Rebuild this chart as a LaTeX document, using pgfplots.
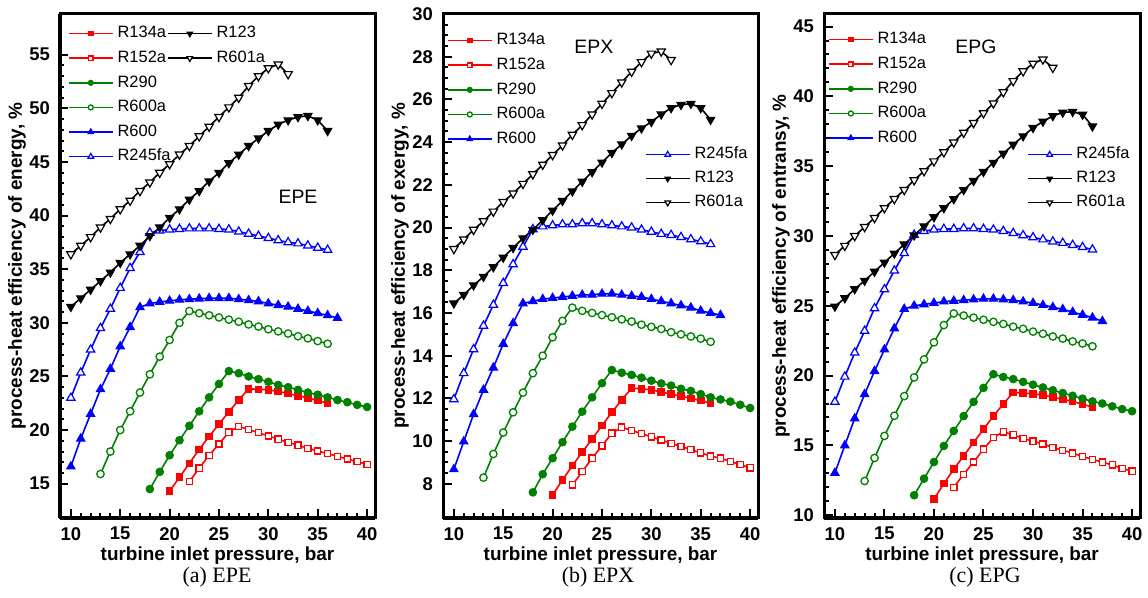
\documentclass[border=0pt]{standalone}
\usepackage{fontspec}
\setmainfont{Liberation Sans}
\newfontfamily\capfont{Liberation Serif}
\usepackage{pgfplots}
\pgfplotsset{compat=1.18}

\definecolor{cR}{RGB}{255,0,0}
\definecolor{cG}{RGB}{0,128,0}
\definecolor{cB}{RGB}{0,0,255}

\tikzset{
  inlabel/.style={font=\fontsize{19.5}{22}\selectfont},
  frame/.style={line width=3bp, black, line cap=rect},
}

\pgfplotsset{
  legimg/.style={
    legend cell align=left,
    legend style={draw=none, fill=none, inner sep=0pt, outer sep=0pt,
      font=\fontsize{16.5}{18}\selectfont, row sep=9.1bp, column sep=4bp,
      nodes={inner sep=0pt, text height=12bp, text depth=3.5bp}},
    legend image code/.code={\draw[mark repeat=2,mark phase=2,##1,
      every mark/.append style={scale=0.68}]
      plot coordinates {(0bp,0bp) (22bp,0bp) (44bp,0bp)};},
  },
  panel/.style={
    width=315bp, height=504bp, scale only axis,
    xmin=8.9, xmax=40.8, xtick={10,15,...,40}, minor x tick num=4,
    axis x line*=bottom, axis y line*=left,
    x axis line style={line width=3bp, black, -},
    y axis line style={line width=3bp, black, -},
    tick style={line width=2bp, black},
    major tick length=8.5bp, minor tick length=4.5bp,
    tick align=inside,
    /pgf/number format/assume math mode=true,
    xticklabel={\pgfmathprintnumber{\tick}},
    yticklabel={\pgfmathprintnumber{\tick}},
    ticklabel style={font=\fontsize{18.5}{20}\selectfont\bfseries},
    xticklabel style={inner sep=0pt, yshift=-9bp},
    yticklabel style={inner sep=0pt, xshift=-10bp},
    label style={font=\fontsize{19}{22}\selectfont\bfseries},
    xlabel style={yshift=-3bp},
    xlabel={turbine inlet pressure, bar},
    legimg,
  },
  ghost/.style={
    width=315bp, height=504bp, scale only axis, hide axis,
    xmin=0, xmax=1, ymin=0, ymax=1, legimg,
    legend style={row sep=8.5bp},
  },
  s134/.style={color=cR, line width=1.6bp, mark=square*, mark size=3.3bp, mark options={solid, fill=cR, line width=1bp}},
  s152/.style={color=cR, line width=1.6bp, mark=square*, mark size=3.1bp, mark options={solid, fill=white, line width=1.3bp}},
  s290/.style={color=cG, line width=1.6bp, mark=*, mark size=3.8bp, mark options={solid, fill=cG, line width=1bp}},
  s600a/.style={color=cG, line width=1.6bp, mark=*, mark size=3.7bp, mark options={solid, fill=white, line width=1.3bp}},
  s600/.style={color=cB, line width=1.6bp, mark=triangle*, mark size=4.8bp, mark options={solid, fill=cB, line width=1bp}},
  s245/.style={color=cB, line width=1.6bp, mark=triangle*, mark size=4.8bp, mark options={solid, fill=white, line width=1.2bp}},
  s123/.style={color=black, line width=1.6bp, mark=triangle*, mark size=4.8bp, mark options={solid, rotate=180, fill=black, line width=1bp}},
  s601/.style={color=black, line width=1.6bp, mark=triangle*, mark size=4.8bp, mark options={solid, rotate=180, fill=white, line width=1.2bp}},
}

\begin{document}
\begin{tikzpicture}
\path[use as bounding box] (0,0) rectangle (1148bp,598bp);

% ---------------- (a) EPE ----------------
\begin{axis}[panel, name=pa, at={(60bp,80bp)}, anchor=south west,
  ymin=11.8, ymax=58.8, ytick={15,20,...,55}, minor y tick num=4,
  ylabel={process-heat efficiency of energy, \%},
  legend style={at={(0.0254,0.9764)}, anchor=north west}]
\addplot[s134] coordinates {(20,14.3)(21,15.6)(22,16.9)(23,18.2)(24,19.4)(25,20.55)(26,21.7)(27,22.8)(28,23.85)(29,23.8)(30,23.75)(31,23.6)(32,23.4)(33,23.2)(34,23.0)(35,22.75)(36,22.5)};
\addlegendentry{R134a}
\addplot[s152] coordinates {(22,15.2)(23,16.45)(24,17.65)(25,18.7)(26,19.8)(27,20.35)(28,20.05)(29,19.75)(30,19.45)(31,19.15)(32,18.85)(33,18.6)(34,18.3)(35,18.05)(36,17.8)(37,17.55)(38,17.3)(39,17.05)(40,16.8)};
\addlegendentry{R152a}
\addplot[s290] coordinates {(18,14.5)(19,16.1)(20,17.65)(21,19.05)(22,20.4)(23,21.75)(24,23.05)(25,24.3)(26,25.5)(27,25.3)(28,25.0)(29,24.75)(30,24.5)(31,24.2)(32,24.0)(33,23.75)(34,23.5)(35,23.3)(36,23.05)(37,22.8)(38,22.6)(39,22.35)(40,22.15)};
\addlegendentry{R290}
\addplot[s600a] coordinates {(13,15.9)(14,18.0)(15,20.0)(16,21.75)(17,23.5)(18,25.2)(19,26.85)(20,28.4)(21,30.0)(22,31.1)(23,30.9)(24,30.7)(25,30.5)(26,30.3)(27,30.1)(28,29.85)(29,29.65)(30,29.4)(31,29.2)(32,29.0)(33,28.75)(34,28.55)(35,28.3)(36,28.05)};
\addlegendentry{R600a}
\addplot[s600] coordinates {(10,16.6)(11,19.2)(12,21.5)(13,23.8)(14,25.7)(15,27.8)(16,29.6)(17,31.45)(18,31.8)(19,31.95)(20,32.05)(21,32.15)(22,32.2)(23,32.25)(24,32.3)(25,32.3)(26,32.3)(27,32.2)(28,32.1)(29,32.0)(30,31.8)(31,31.65)(32,31.5)(33,31.3)(34,31.1)(35,30.9)(36,30.7)(37,30.45)};
\addlegendentry{R600}
\addplot[s245] coordinates {(10,23.0)(11,25.35)(12,27.5)(13,29.5)(14,31.3)(15,33.25)(16,35.1)(17,36.6)(18,38.4)(19,38.6)(20,38.7)(21,38.75)(22,38.8)(23,38.8)(24,38.8)(25,38.75)(26,38.7)(27,38.5)(28,38.3)(29,38.1)(30,37.9)(31,37.7)(32,37.5)(33,37.4)(34,37.2)(35,37.0)(36,36.8)};
\addlegendentry{R245fa}
\addplot[s123, forget plot] coordinates {(10,31.5)(11,32.3)(12,33.1)(13,33.9)(14,34.7)(15,35.6)(16,36.4)(17,37.2)(18,38.1)(19,38.9)(20,39.8)(21,40.6)(22,41.5)(23,42.3)(24,43.2)(25,44.0)(26,44.9)(27,45.7)(28,46.5)(29,47.2)(30,47.9)(31,48.5)(32,48.9)(33,49.2)(34,49.3)(35,48.9)(36,47.9)};
\addplot[s601, forget plot] coordinates {(10,36.4)(11,37.2)(12,38.0)(13,38.9)(14,39.7)(15,40.6)(16,41.4)(17,42.3)(18,43.1)(19,44.0)(20,44.8)(21,45.7)(22,46.5)(23,47.4)(24,48.3)(25,49.2)(26,50.1)(27,51.0)(28,52.1)(29,53.0)(30,53.75)(31,54.1)(32,53.2)};
\node[inlabel] at (rel axis cs:0.7556,0.6369) {EPE};
\end{axis}
\begin{axis}[ghost, at={(60bp,80bp)}, anchor=south west,
  legend style={at={(0.3397,0.9764)}, anchor=north west, row sep=9.1bp}]
\addlegendimage{s123}\addlegendentry{R123}
\addlegendimage{s601}\addlegendentry{R601a}
\end{axis}
\node[font=\capfont\fontsize{22}{24}\selectfont] at (217bp,21bp) {(a) EPE};

% ---------------- (b) EPX ----------------
\begin{axis}[panel, name=pb, at={(443bp,80bp)}, anchor=south west,
  ymin=6.4, ymax=30, ytick={8,10,...,30}, minor y tick num=3,
  ylabel={process-heat efficiency of exergy, \%},
  legend style={at={(0.0127,0.9625)}, anchor=north west}]
\addplot[s134] coordinates {(20,7.48)(21,8.18)(22,8.85)(23,9.48)(24,10.1)(25,10.73)(26,11.35)(27,11.93)(28,12.48)(29,12.45)(30,12.4)(31,12.3)(32,12.2)(33,12.1)(34,12.0)(35,11.9)(36,11.77)};
\addlegendentry{R134a}
\addplot[s152] coordinates {(22,7.95)(23,8.57)(24,9.2)(25,9.78)(26,10.37)(27,10.65)(28,10.5)(29,10.35)(30,10.2)(31,10.05)(32,9.9)(33,9.75)(34,9.6)(35,9.45)(36,9.3)(37,9.2)(38,9.05)(39,8.9)(40,8.75)};
\addlegendentry{R152a}
\addplot[s290] coordinates {(18,7.6)(19,8.45)(20,9.2)(21,9.95)(22,10.68)(23,11.38)(24,12.05)(25,12.71)(26,13.33)(27,13.2)(28,13.1)(29,12.97)(30,12.83)(31,12.7)(32,12.6)(33,12.45)(34,12.35)(35,12.2)(36,12.05)(37,11.95)(38,11.85)(39,11.7)(40,11.55)};
\addlegendentry{R290}
\addplot[s600a] coordinates {(13,8.29)(14,9.4)(15,10.4)(16,11.35)(17,12.27)(18,13.18)(19,14.0)(20,14.86)(21,15.63)(22,16.25)(23,16.1)(24,16.0)(25,15.9)(26,15.8)(27,15.7)(28,15.6)(29,15.45)(30,15.35)(31,15.25)(32,15.1)(33,15.0)(34,14.9)(35,14.8)(36,14.65)};
\addlegendentry{R600a}
\addplot[s600] coordinates {(10,8.68)(11,9.98)(12,11.26)(13,12.4)(14,13.44)(15,14.55)(16,15.52)(17,16.45)(18,16.55)(19,16.65)(20,16.7)(21,16.75)(22,16.8)(23,16.85)(24,16.85)(25,16.9)(26,16.9)(27,16.85)(28,16.8)(29,16.75)(30,16.65)(31,16.55)(32,16.45)(33,16.35)(34,16.25)(35,16.1)(36,16.0)(37,15.9)};
\addlegendentry{R600}
\addplot[s245, forget plot] coordinates {(10,11.96)(11,13.18)(12,14.3)(13,15.4)(14,16.38)(15,17.4)(16,18.28)(17,19.1)(18,19.92)(19,20.05)(20,20.1)(21,20.15)(22,20.15)(23,20.2)(24,20.2)(25,20.15)(26,20.1)(27,20.05)(28,20.0)(29,19.9)(30,19.8)(31,19.7)(32,19.65)(33,19.55)(34,19.45)(35,19.35)(36,19.22)};
\addplot[s123, forget plot] coordinates {(10,16.45)(11,16.85)(12,17.3)(13,17.7)(14,18.15)(15,18.6)(16,19.05)(17,19.5)(18,19.9)(19,20.35)(20,20.8)(21,21.25)(22,21.7)(23,22.15)(24,22.6)(25,23.05)(26,23.5)(27,23.9)(28,24.3)(29,24.65)(30,24.95)(31,25.3)(32,25.6)(33,25.75)(34,25.8)(35,25.6)(36,25.05)};
\addplot[s601, forget plot] coordinates {(10,19.0)(11,19.45)(12,19.9)(13,20.3)(14,20.75)(15,21.2)(16,21.6)(17,22.05)(18,22.5)(19,22.95)(20,23.4)(21,23.85)(22,24.35)(23,24.8)(24,25.3)(25,25.8)(26,26.3)(27,26.8)(28,27.3)(29,27.75)(30,28.15)(31,28.25)(32,27.85)};
\node[inlabel] at (rel axis cs:0.479,0.9345) {EPX};
\end{axis}
\begin{axis}[ghost, at={(443bp,80bp)}, anchor=south west,
  legend style={at={(0.641,0.7363)}, anchor=north west}]
\addlegendimage{s245}\addlegendentry{R245fa}
\addlegendimage{s123}\addlegendentry{R123}
\addlegendimage{s601}\addlegendentry{R601a}
\end{axis}
\node[font=\capfont\fontsize{22}{24}\selectfont] at (598bp,21bp) {(b) EPX};

% ---------------- (c) EPG ----------------
\begin{axis}[panel, name=pc, width=316bp, at={(824bp,80bp)}, anchor=south west,
  ymin=9.8, ymax=45.9, ytick={10,15,...,45}, minor y tick num=4,
  ylabel={process-heat efficiency of entransy, \%},
  legend style={at={(0.0127,0.9645)}, anchor=north west}]
\addplot[s134] coordinates {(20,11.14)(21,12.27)(22,13.29)(23,14.25)(24,15.21)(25,16.16)(26,17.1)(27,17.96)(28,18.8)(29,18.75)(30,18.7)(31,18.6)(32,18.45)(33,18.3)(34,18.15)(35,17.95)(36,17.75)};
\addlegendentry{R134a}
\addplot[s152] coordinates {(22,12.0)(23,12.93)(24,13.81)(25,14.73)(26,15.57)(27,15.97)(28,15.75)(29,15.5)(30,15.3)(31,15.1)(32,14.85)(33,14.65)(34,14.45)(35,14.2)(36,14.0)(37,13.8)(38,13.6)(39,13.35)(40,13.15)};
\addlegendentry{R152a}
\addplot[s290] coordinates {(18,11.43)(19,12.62)(20,13.81)(21,14.96)(22,16.04)(23,17.1)(24,18.12)(25,19.12)(26,20.1)(27,19.9)(28,19.75)(29,19.55)(30,19.35)(31,19.15)(32,18.95)(33,18.75)(34,18.55)(35,18.35)(36,18.15)(37,18.0)(38,17.8)(39,17.6)(40,17.45)};
\addlegendentry{R290}
\addplot[s600a] coordinates {(13,12.45)(14,14.1)(15,15.68)(16,17.12)(17,18.53)(18,19.87)(19,21.16)(20,22.38)(21,23.62)(22,24.45)(23,24.3)(24,24.15)(25,24.0)(26,23.85)(27,23.7)(28,23.5)(29,23.35)(30,23.15)(31,23.0)(32,22.8)(33,22.65)(34,22.45)(35,22.3)(36,22.1)};
\addlegendentry{R600a}
\addplot[s600] coordinates {(10,13.03)(11,15.0)(12,16.93)(13,18.67)(14,20.32)(15,21.87)(16,23.38)(17,24.77)(18,25.0)(19,25.1)(20,25.2)(21,25.3)(22,25.35)(23,25.4)(24,25.45)(25,25.5)(26,25.5)(27,25.45)(28,25.4)(29,25.3)(30,25.2)(31,25.05)(32,24.9)(33,24.75)(34,24.55)(35,24.35)(36,24.15)(37,23.9)};
\addlegendentry{R600}
\addplot[s245, forget plot] coordinates {(10,18.12)(11,19.92)(12,21.64)(13,23.2)(14,24.82)(15,26.18)(16,27.52)(17,28.77)(18,30.08)(19,30.35)(20,30.45)(21,30.5)(22,30.5)(23,30.55)(24,30.55)(25,30.5)(26,30.45)(27,30.35)(28,30.2)(29,30.05)(30,29.9)(31,29.75)(32,29.6)(33,29.5)(34,29.35)(35,29.2)(36,29.03)};
\addplot[s123, forget plot] coordinates {(10,24.95)(11,25.55)(12,26.2)(13,26.8)(14,27.45)(15,28.1)(16,28.75)(17,29.4)(18,30.05)(19,30.7)(20,31.35)(21,32.0)(22,32.65)(23,33.3)(24,33.95)(25,34.6)(26,35.25)(27,35.9)(28,36.55)(29,37.15)(30,37.75)(31,38.2)(32,38.6)(33,38.85)(34,38.9)(35,38.7)(36,37.85)};
\addplot[s601, forget plot] coordinates {(10,28.65)(11,29.3)(12,30.0)(13,30.65)(14,31.3)(15,32.0)(16,32.65)(17,33.3)(18,34.0)(19,34.65)(20,35.35)(21,36.0)(22,36.7)(23,37.4)(24,38.1)(25,38.8)(26,39.5)(27,40.3)(28,41.1)(29,41.8)(30,42.35)(31,42.65)(32,42.05)};
\node[inlabel] at (rel axis cs:0.481,0.9345) {EPG};
\end{axis}
\begin{axis}[ghost, width=316bp, at={(824bp,80bp)}, anchor=south west,
  legend style={at={(0.642,0.7363)}, anchor=north west}]
\addlegendimage{s245}\addlegendentry{R245fa}
\addlegendimage{s123}\addlegendentry{R123}
\addlegendimage{s601}\addlegendentry{R601a}
\end{axis}
\node[font=\capfont\fontsize{22}{24}\selectfont] at (985bp,21bp) {(c) EPG};

% panel frames, one side at a time
\draw[frame] (60bp,80bp) -- (60bp,584bp);
\draw[frame] (60bp,584bp) -- (375bp,584bp);
\draw[frame] (375bp,584bp) -- (375bp,80bp);
\draw[frame] (375bp,80bp) -- (60bp,80bp);
\draw[frame] (443bp,80bp) -- (443bp,584bp);
\draw[frame] (443bp,584bp) -- (758bp,584bp);
\draw[frame] (758bp,584bp) -- (758bp,80bp);
\draw[frame] (758bp,80bp) -- (443bp,80bp);
\draw[frame] (824bp,80bp) -- (824bp,584bp);
\draw[frame] (824bp,584bp) -- (1140bp,584bp);
\draw[frame] (1140bp,584bp) -- (1140bp,80bp);
\draw[frame] (1140bp,80bp) -- (824bp,80bp);
\end{tikzpicture}
\end{document}
